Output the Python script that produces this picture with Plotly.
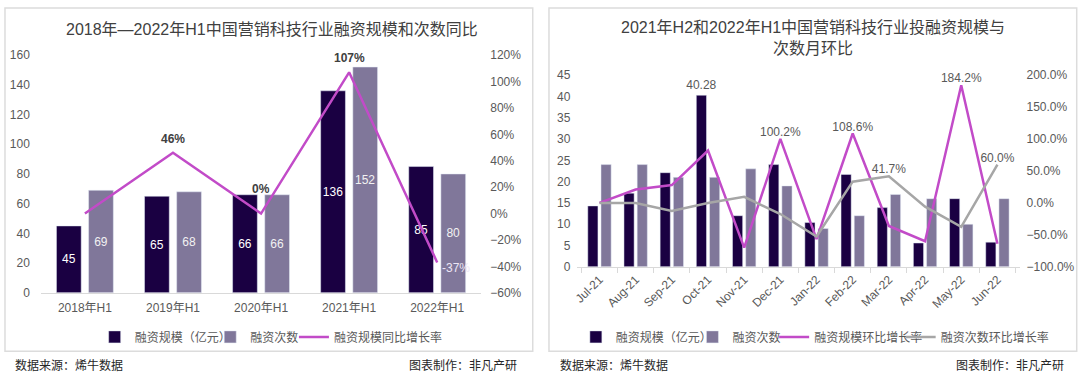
import plotly.graph_objects as go

# ---------------- data: left chart ----------------
years = ["2018年H1", "2019年H1", "2020年H1", "2021年H1", "2022年H1"]
amount_yearly = [45, 65, 66, 136, 85]          # 融资规模（亿元）
count_yearly = [69, 68, 66, 152, 80]           # 融资次数
yoy_growth = [0, 46, 0, 107, -37]              # 融资规模同比增长率 (%)
yoy_labels = ["", "46%", "0%", "107%", "-37%"]

# ---------------- data: right chart ----------------
months = ["Jul-21", "Aug-21", "Sep-21", "Oct-21", "Nov-21", "Dec-21",
          "Jan-22", "Feb-22", "Mar-22", "Apr-22", "May-22", "Jun-22"]
amount_monthly = [14.3, 17.3, 22.1, 40.28, 12.0, 24.0, 10.4, 21.7, 13.9, 5.6, 16.0, 5.8]
count_monthly = [24, 24, 21, 21, 23, 19, 9, 12, 17, 16, 10, 16]
amount_mom = [0, 21, 28, 82, -70, 100.2, -56.7, 108.6, -36, -60, 184.2, -64]
count_mom = [0, 0, -12.5, 0, 9.5, -17.4, -52.6, 33.3, 41.7, -5.9, -37.5, 60.0]
amount_bar_labels = ["", "", "", "40.28", "", "", "", "", "", "", "", ""]
amount_mom_labels = ["", "", "", "", "", "100.2%", "", "108.6%", "", "", "184.2%", ""]
count_mom_labels = ["", "", "", "", "", "", "", "", "41.7%", "", "", "60.0%"]

# ---------------- styles ----------------
W, H = 1080, 383
FONT = "Liberation Sans, Noto Sans CJK SC, sans-serif"
DARK = "#1a0042"
LIGHT = "#80779a"
MAGENTA = "#c24bc8"
GREY = "#a6a6a6"
TICK = "#595959"
AXLINE = "#d9d9d9"


def px_x(x):
    return x / W


def px_y(y):
    return 1 - y / H


fig = go.Figure()

# left chart traces
fig.add_trace(go.Bar(
    x=years, y=amount_yearly, name="融资规模（亿元）", marker_color=DARK,
    text=amount_yearly, textposition="inside", insidetextanchor="middle",
    textangle=0, constraintext="none",
    textfont=dict(color="#ffffff", size=12), xaxis="x", yaxis="y", legend="legend"))
fig.add_trace(go.Bar(
    x=years, y=count_yearly, name="融资次数", marker_color=LIGHT,
    text=count_yearly, textposition="inside", insidetextanchor="middle",
    textangle=0, constraintext="none",
    textfont=dict(color="#f2f2f2", size=12), xaxis="x", yaxis="y", legend="legend2"))
fig.add_trace(go.Scatter(
    x=years, y=yoy_growth, name="融资规模同比增长率", mode="lines",
    line=dict(color=MAGENTA, width=2.5), xaxis="x", yaxis="y2", legend="legend3"))

# left line labels
for cat, val, lab in zip(years, yoy_growth, yoy_labels):
    if not lab:
        continue
    if val < 0:
        fig.add_annotation(x=cat, y=val, xref="x", yref="y2", text=lab, showarrow=False,
                           xanchor="left", yanchor="middle", xshift=3, yshift=-6,
                           font=dict(size=12, color="#ece6f5", family=FONT))
    else:
        fig.add_annotation(x=cat, y=val, xref="x", yref="y2", text="<b>" + lab + "</b>",
                           showarrow=False, yanchor="bottom", yshift=5 if val > 0 else 16,
                           font=dict(size=12, color="#404040", family=FONT))

# right chart traces
fig.add_trace(go.Bar(
    x=months, y=amount_monthly, name="融资规模（亿元）", marker_color=DARK,
    text=amount_bar_labels, textposition="outside", cliponaxis=False,
    textangle=0, constraintext="none",
    textfont=dict(color=TICK, size=12), xaxis="x2", yaxis="y3", legend="legend4"))
fig.add_trace(go.Bar(
    x=months, y=count_monthly, name="融资次数", marker_color=LIGHT,
    xaxis="x2", yaxis="y3", legend="legend5"))
fig.add_trace(go.Scatter(
    x=months, y=amount_mom, name="融资规模环比增长率", mode="lines+text",
    text=amount_mom_labels, textposition="top center", cliponaxis=False,
    textfont=dict(color=TICK, size=12),
    line=dict(color=MAGENTA, width=2.5), xaxis="x2", yaxis="y4", legend="legend6"))
fig.add_trace(go.Scatter(
    x=months, y=count_mom, name="融资次数环比增长率", mode="lines+text",
    text=count_mom_labels, textposition="top center", cliponaxis=False,
    textfont=dict(color=TICK, size=12),
    line=dict(color=GREY, width=2.5), xaxis="x2", yaxis="y4", legend="legend7"))

tickfont = dict(size=12, color=TICK, family=FONT)


def leg(text_start, offset):
    return dict(orientation="h", x=px_x(text_start - offset), y=px_y(342.4), xanchor="left",
                yanchor="middle", font=dict(size=12, color=TICK), bgcolor="rgba(0,0,0,0)",
                borderwidth=0, itemwidth=30)


fig.update_layout(
    width=W, height=H, autosize=False,
    margin=dict(l=0, r=0, t=0, b=0),
    paper_bgcolor="white", plot_bgcolor="white",
    font=dict(family=FONT, size=12, color=TICK),
    barmode="group", bargap=0.27, bargroupgap=0.23,
    xaxis=dict(domain=[px_x(37), px_x(479)], anchor="y", type="category",
               showline=True, linecolor=AXLINE, linewidth=1, ticks="",
               tickfont=tickfont, showgrid=False, zeroline=False, ticklabelstandoff=4),
    yaxis=dict(domain=[px_y(296.6), px_y(50)], anchor="x", range=[0, 160], dtick=20,
               showgrid=False, zeroline=False, showline=False, tickfont=tickfont,
               ticklabelstandoff=10),
    yaxis2=dict(overlaying="y", side="right", anchor="x", range=[-60, 120], dtick=20,
                ticksuffix="%", showgrid=False, zeroline=False, showline=False,
                tickfont=tickfont, ticklabelstandoff=8),
    xaxis2=dict(domain=[px_x(575.5), px_x(1019.3)], anchor="y3", type="category",
                showline=True, linecolor=AXLINE, linewidth=1, ticks="outside",
                tickson="boundaries", ticklen=5, tickcolor=AXLINE, tickangle=-45,
                tickfont=tickfont, showgrid=False, zeroline=False),
    yaxis3=dict(domain=[px_y(269.7), px_y(70.7)], anchor="x2", range=[0, 45], dtick=5,
                showgrid=False, zeroline=False, showline=False, tickfont=tickfont,
                ticklabelstandoff=6),
    yaxis4=dict(overlaying="y3", side="right", anchor="x2", range=[-100, 200], dtick=50,
                tickformat=".1f", ticksuffix="%", showgrid=False, zeroline=False,
                showline=False, tickfont=tickfont, ticklabelstandoff=6),
    legend=leg(136, 45), legend2=leg(252, 45), legend3=leg(328, 37),
    legend4=leg(619, 45), legend5=leg(736, 45), legend6=leg(810, 37), legend7=leg(937, 37),
    showlegend=True,
)

# titles
fig.add_annotation(xref="paper", yref="paper", x=px_x(269), y=px_y(23.4),
                   text="2018年—2022年H1中国营销科技行业融资规模和次数同比",
                   showarrow=False, xanchor="center", yanchor="middle",
                   font=dict(size=16, color="#404040", family=FONT))
fig.add_annotation(xref="paper", yref="paper", x=px_x(812), y=px_y(32.6),
                   text="2021年H2和2022年H1中国营销科技行业投融资规模与<br>次数月环比",
                   showarrow=False, xanchor="center", yanchor="middle",
                   font=dict(size=16, color="#404040", family=FONT))

# footers
for x, anchor, txt in [(9, "left", "数据来源：烯牛数据"), (517, "right", "图表制作：非凡产研"),
                       (556, "left", "数据来源：烯牛数据"), (1066, "right", "图表制作：非凡产研")]:
    fig.add_annotation(xref="paper", yref="paper", x=px_x(x), y=px_y(372.5), text=txt,
                       showarrow=False, xanchor=anchor, yanchor="middle",
                       font=dict(size=12, color="#262626", family=FONT))

# panel borders
for x0, x1 in [(1, 530.7), (547, 1076.7)]:
    fig.add_shape(type="rect", xref="paper", yref="paper",
                  x0=px_x(x0), x1=px_x(x1), y0=px_y(357.3), y1=px_y(1),
                  line=dict(color="#dcdcdc", width=1.5), fillcolor="rgba(0,0,0,0)")

fig.write_html("out.html", config={"displayModeBar": False},
               post_script="document.body.style.margin='0';")
